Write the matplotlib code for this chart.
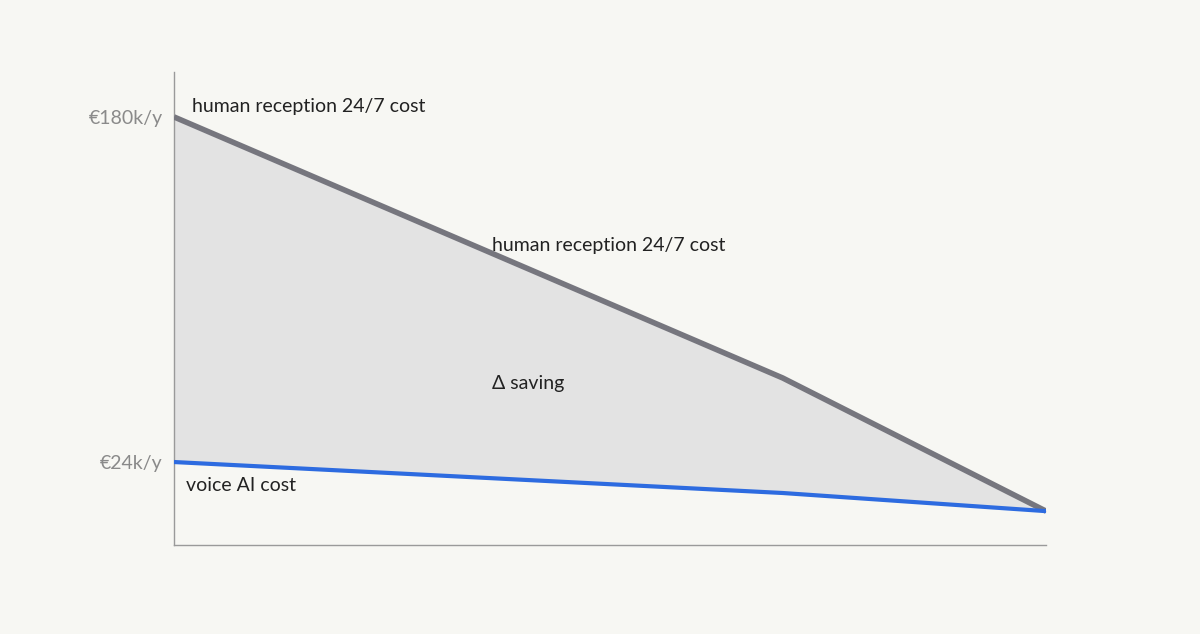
import matplotlib.pyplot as plt

plt.rcParams['font.family'] = ['Lato', 'DejaVu Sans']

# relative time (0 = now, 1 = end of horizon) and yearly cost in k EUR
x_points = [0.0, 0.698, 1.0]
human_cost = [180, 62, 1.8]
voice_cost = [24, 10, 1.8]
tick_values = [180, 24]
tick_labels = ["€180k/y", "€24k/y"]

bg = "#f7f7f3"
fig = plt.figure(figsize=(12, 6.34), dpi=100, facecolor=bg)
ax = fig.add_axes([0.145, 0.1404, 0.7267, 0.746], facecolor=bg)

ax.fill_between(x_points, voice_cost, human_cost, color="#e3e3e3", zorder=1)
ax.plot(x_points, human_cost, color="#76767e", linewidth=4, solid_capstyle="butt", zorder=3)
ax.plot(x_points, voice_cost, color="#2d6be0", linewidth=3, solid_capstyle="butt", zorder=3)

ax.set_xlim(0, 1)
ax.set_ylim(-13.5, 200.3)
ax.set_xticks([])
ax.set_yticks(tick_values)
ax.set_yticklabels(tick_labels, fontsize=14, color="#8a8a8a")
ax.tick_params(axis="y", length=0, pad=8)
for side in ("top", "right"):
    ax.spines[side].set_visible(False)
for side in ("left", "bottom"):
    ax.spines[side].set_color("#9a9a9a")
    ax.spines[side].set_linewidth(1)

txt = dict(fontsize=14, color="#222222", va="center", ha="left")
ax.text(0.021, 184.5, "human reception 24/7 cost", **txt)
ax.text(0.365, 121.7, "human reception 24/7 cost", **txt)
ax.text(0.365, 59.3, "Δ saving", **txt)
ax.text(0.014, 13.3, "voice AI cost", **txt)

fig.savefig("out.png", facecolor=bg)
